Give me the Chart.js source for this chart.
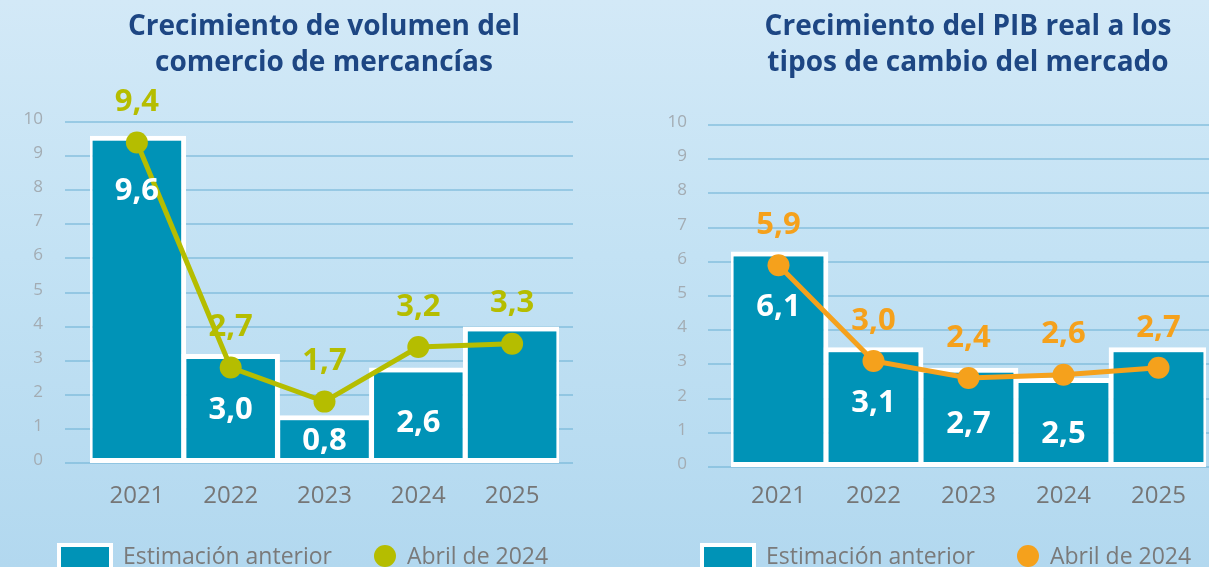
<!DOCTYPE html>
<html>
<head>
<meta charset="utf-8">
<script src="https://cdn.jsdelivr.net/npm/chart.js@4.4.1/dist/chart.umd.min.js"></script>
<style>
  html, body { margin: 0; padding: 0; }
  body {
    width: 1209px; height: 567px; overflow: hidden; position: relative;
    background: linear-gradient(180deg, #d3e9f7 0%, #c3e2f4 45%, #b2d8ef 100%);
  }
  canvas { position: absolute; top: 0; }
  #trade { left: 0; }
  #gdp { left: 620px; }
</style>
</head>
<body>
<canvas id="trade" width="600" height="600"></canvas>
<canvas id="gdp" width="696" height="600"></canvas>
<script>
const years = ['2021', '2022', '2023', '2024', '2025'];
const legendLabels = ['Estimación anterior', 'Abril de 2024'];

// left panel
const tradeTitle = ['Crecimiento de volumen del', 'comercio de mercancías'];
const tradePrevious = [9.6, 3.2, 1.4, 2.8, 4.0];
const tradePreviousLabels = ['9,6', '3,0', '0,8', '2,6', ''];
const tradeApril = [9.4, 2.8, 1.8, 3.4, 3.5];
const tradeAprilLabels = ['9,4', '2,7', '1,7', '3,2', '3,3'];

// right panel
const gdpTitle = ['Crecimiento del PIB real a los', 'tipos de cambio del mercado'];
const gdpPrevious = [6.3, 3.5, 2.9, 2.6, 3.5];
const gdpPreviousLabels = ['6,1', '3,1', '2,7', '2,5', ''];
const gdpApril = [5.9, 3.1, 2.6, 2.7, 2.9];
const gdpAprilLabels = ['5,9', '3,0', '2,4', '2,6', '2,7'];

const FONT = "'Open Sans', 'Noto Sans', sans-serif";
const BAR_COLOR = '#0093b7';
Chart.defaults.font.family = FONT;

// horizontal grid lines (wider than the chart area) and their tick labels
const longGrid = {
  id: 'longGrid',
  beforeDatasetsDraw(chart, args, opts) {
    const {ctx, scales: {y}} = chart;
    ctx.save();
    ctx.strokeStyle = opts.color;
    ctx.lineWidth = opts.width;
    ctx.font = `17px ${FONT}`;
    ctx.fillStyle = opts.labelColor;
    ctx.textAlign = 'right';
    ctx.textBaseline = 'middle';
    y.ticks.forEach(t => {
      const py = Math.round(y.getPixelForValue(t.value));
      ctx.beginPath();
      ctx.moveTo(opts.from, py);
      ctx.lineTo(opts.to, py);
      ctx.stroke();
      ctx.fillText(t.label, opts.labelX, py - 3);
    });
    ctx.restore();
  }
};

const valueLabels = {
  id: 'valueLabels',
  afterDatasetsDraw(chart) {
    const ctx = chart.ctx;
    ctx.save();
    ctx.textAlign = 'center';
    ctx.textBaseline = 'middle';
    ctx.font = `bold 31px ${FONT}`;
    chart.data.datasets.forEach((ds, i) => {
      const meta = chart.getDatasetMeta(i);
      meta.data.forEach((el, j) => {
        const text = ds.valueLabels[j];
        if (!text) return;
        let y;
        if (ds.type === 'bar') {
          y = Math.min(el.y + 56, el.base - 22);
          ctx.fillStyle = '#ffffff';
        } else {
          y = el.y - 40;
          ctx.fillStyle = ds.borderColor;
        }
        ctx.fillText(text, el.x, y);
      });
    });
    ctx.restore();
  }
};

const bottomLegend = {
  id: 'bottomLegend',
  afterDraw(chart, args, opts) {
    const ctx = chart.ctx;
    const bars = chart.data.datasets.find(d => d.type === 'bar');
    const line = chart.data.datasets.find(d => d.type === 'line');
    const cy = opts.y;
    let x = opts.x;
    ctx.save();
    ctx.fillStyle = '#ffffff';
    ctx.fillRect(x, cy - 13, 56, 36);
    ctx.fillStyle = bars.backgroundColor;
    ctx.fillRect(x + 4, cy - 9, 48, 28);
    ctx.font = `23px ${FONT}`;
    ctx.fillStyle = '#7a7a7a';
    ctx.textBaseline = 'middle';
    ctx.textAlign = 'left';
    x += 66;
    ctx.fillText(bars.label, x, cy + 1);
    x += ctx.measureText(bars.label).width + 42;
    ctx.beginPath();
    ctx.arc(x + 11, cy, 11, 0, Math.PI * 2);
    ctx.fillStyle = line.borderColor;
    ctx.fill();
    ctx.fillStyle = '#7a7a7a';
    ctx.fillText(line.label, x + 33, cy + 1);
    ctx.restore();
  }
};

function makeChart(id, title, previous, previousLabels, april, aprilLabels, lineColor, geo) {
  return new Chart(document.getElementById(id), {
    type: 'bar',
    data: {
      labels: years,
      datasets: [
        {
          type: 'line',
          label: legendLabels[1],
          data: april,
          valueLabels: aprilLabels,
          borderColor: lineColor,
          backgroundColor: lineColor,
          borderWidth: 5,
          pointRadius: 11,
          pointHoverRadius: 11,
          pointBackgroundColor: lineColor,
          pointBorderWidth: 0,
          tension: 0,
          order: 0,
        },
        {
          type: 'bar',
          label: legendLabels[0],
          data: previous,
          valueLabels: previousLabels,
          backgroundColor: BAR_COLOR,
          borderColor: '#ffffff',
          borderWidth: 5,
          borderSkipped: false,
          barPercentage: 1.05,
          categoryPercentage: 1,
          order: 1,
        },
      ]
    },
    options: {
      responsive: false,
      animation: false,
      events: [],
      layout: {padding: {left: geo.left, right: geo.right, top: 0, bottom: 0}},
      scales: {
        x: {
          grid: {display: false},
          border: {display: false},
          ticks: {color: '#767676', font: {size: 24}, padding: geo.xPad},
          afterFit: s => { s.height = 600 - geo.bottom; },
        },
        y: {
          min: 0,
          max: 10,
          grid: {display: false},
          border: {display: false},
          ticks: {stepSize: 1, display: false},
          afterFit: s => { s.width = 1; },
        },
      },
      plugins: {
        legend: {display: false},
        tooltip: {enabled: false},
        title: {
          display: true,
          text: title,
          color: '#1d4683',
          font: {size: 28, weight: 'bold', lineHeight: 1.286},
          padding: {top: 9, bottom: geo.top - 81},
        },
        longGrid: {
          from: geo.gridFrom, to: geo.gridTo, labelX: geo.labelX,
          color: 'rgba(112,178,214,0.55)', width: 2, labelColor: '#a3acb3'
        },
        bottomLegend: {x: geo.legendX, y: 556},
      }
    },
    plugins: [longGrid, valueLabels, bottomLegend],
  });
}

makeChart('trade', tradeTitle, tradePrevious, tradePreviousLabels, tradeApril, tradeAprilLabels, '#b5bd00',
  {left: 89, right: 41, top: 122, bottom: 463, xPad: 11, gridFrom: 65, gridTo: 573, labelX: 43, legendX: 57});
makeChart('gdp', gdpTitle, gdpPrevious, gdpPreviousLabels, gdpApril, gdpAprilLabels, '#f5a11c',
  {left: 110, right: 110, top: 125, bottom: 467, xPad: 7, gridFrom: 88, gridTo: 696, labelX: 67, legendX: 80});
</script>
</body>
</html>
